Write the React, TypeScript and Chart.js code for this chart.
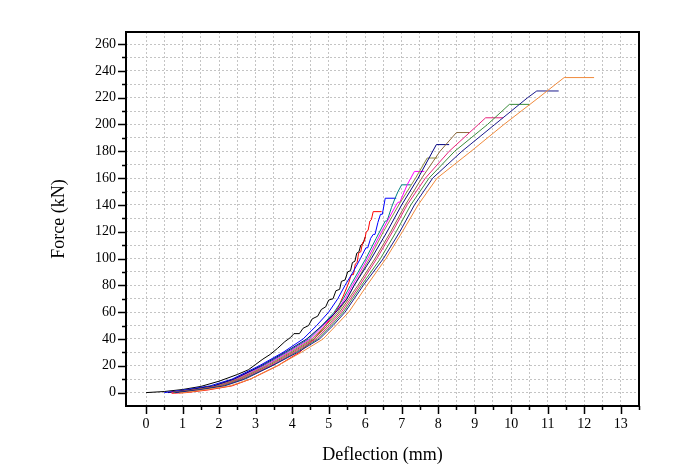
import { useEffect, useRef } from "react";
import { Chart, registerables } from "chart.js";

Chart.register(...registerables);

type Pt = [number, number];

// Tick values
const xLabelTicks = [0, 1, 2, 3, 4, 5, 6, 7, 8, 9, 10, 11, 12, 13];
const xMinorTicks = [0.5, 1.5, 2.5, 3.5, 4.5, 5.5, 6.5, 7.5, 8.5, 9.5, 10.5, 11.5, 12.5, 13.5];
const yLabelTicks = [0, 20, 40, 60, 80, 100, 120, 140, 160, 180, 200, 220, 240, 260];
const yMinorTicks = [10, 30, 50, 70, 90, 110, 130, 150, 170, 190, 210, 230, 250];

// Series (deflection mm, force kN)
const curveBlack: Pt[] = [
  [0, 0], [0.5, 0.8], [1, 2.3], [1.5, 4.6], [2, 8.5], [2.5, 13.5], [2.8, 17], [3.0, 21], [3.2, 25],
  [3.4, 28.5], [3.6, 33], [3.8, 38], [3.95, 41], [4.05, 44], [4.2, 44], [4.3, 48], [4.45, 50], [4.55, 55],
  [4.7, 57], [4.8, 62], [4.92, 64], [5.0, 69], [5.12, 70], [5.2, 76], [5.3, 77], [5.35, 83], [5.45, 84],
  [5.52, 90], [5.6, 91], [5.65, 97], [5.72, 98], [5.77, 104], [5.83, 105], [5.88, 110], [5.94, 111], [6.0, 116],
];
const curveRed: Pt[] = [
  [0.7, -0.5], [1.1, 0], [1.7, 2], [2.35, 5], [2.85, 10], [3.6, 20], [4.2, 30], [4.6, 40], [4.85, 48],
  [5.05, 55], [5.25, 63], [5.4, 72], [5.55, 82], [5.62, 88], [5.68, 88], [5.73, 96], [5.78, 97], [5.82, 104],
  [5.88, 105], [5.93, 112], [5.98, 113], [6.03, 120], [6.08, 121], [6.13, 128], [6.17, 129], [6.22, 135], [6.45, 135],
];
const curveBlue: Pt[] = [
  [0.5, 0], [1.05, 2], [1.75, 5], [2.35, 10], [3.1, 20], [3.75, 30], [4.3, 40], [4.67, 50], [5.0, 60],
  [5.25, 70], [5.45, 80], [5.67, 90], [5.87, 100], [6.02, 108], [6.07, 108], [6.15, 115], [6.22, 118], [6.27, 118],
  [6.35, 127], [6.42, 133], [6.47, 133], [6.55, 145], [6.85, 145],
];
const curveTeal: Pt[] = [
  [0.6, 0], [1.15, 2], [1.85, 5], [2.42, 10], [3.2, 20], [3.85, 30], [4.45, 40], [4.82, 50], [5.15, 60],
  [5.4, 70], [5.6, 80], [6.02, 100], [6.3, 115], [6.55, 128], [6.6, 128], [6.72, 138], [6.82, 145],
  [6.9, 150], [7.0, 155], [7.25, 155],
];
const curveMagenta: Pt[] = [
  [0.6, 0], [1.2, 2], [1.9, 5], [2.45, 10], [3.25, 20], [3.9, 30], [4.5, 40], [4.87, 50], [5.2, 60],
  [5.45, 70], [5.65, 80], [6.07, 100], [6.45, 120], [6.85, 140], [6.9, 142], [6.95, 142], [7.15, 155],
  [7.35, 165], [7.62, 165],
];
const curveOlive: Pt[] = [
  [0.65, 0], [1.25, 2], [1.95, 5], [2.5, 10], [3.3, 20], [3.95, 30], [4.55, 40], [4.92, 50], [5.25, 60],
  [5.5, 70], [5.7, 80], [6.12, 100], [6.5, 120], [6.92, 140], [7.38, 160], [7.7, 175], [7.98, 175],
];
const curveNavy: Pt[] = [
  [0.6, 0], [1.15, 2], [1.85, 5], [2.4, 10], [3.15, 20], [3.8, 30], [4.4, 40], [4.82, 50], [5.2, 60],
  [5.5, 70], [5.7, 80], [6.17, 100], [6.6, 120], [7.0, 140], [7.45, 160], [7.75, 175], [7.95, 185], [8.3, 185],
];
const curveBrown: Pt[] = [
  [0.7, 0], [1.3, 2], [2.0, 5], [2.55, 10], [3.35, 20], [4.0, 30], [4.6, 40], [4.97, 50], [5.3, 60],
  [5.55, 70], [5.8, 80], [6.27, 100], [6.7, 120], [7.1, 140], [7.55, 160], [8.05, 180], [8.5, 194], [8.85, 194],
];
const curvePink: Pt[] = [
  [0.7, 0], [1.35, 2], [2.05, 5], [2.6, 10], [3.4, 20], [4.05, 30], [4.65, 40], [5.02, 50], [5.35, 60],
  [5.6, 70], [5.85, 80], [6.32, 100], [6.75, 120], [7.15, 140], [7.65, 160], [8.3, 180], [9.1, 200],
  [9.3, 205], [9.78, 205],
];
const curveGreen: Pt[] = [
  [0.75, 0], [1.4, 2], [2.1, 5], [2.65, 10], [3.45, 20], [4.1, 30], [4.7, 40], [5.07, 50], [5.4, 60],
  [5.65, 70], [5.9, 80], [6.42, 100], [6.85, 120], [7.25, 140], [7.75, 160], [8.45, 180], [9.35, 200],
  [9.95, 215], [10.5, 215],
];
const curveDarkNavy: Pt[] = [
  [0.8, 0], [1.45, 2], [2.15, 5], [2.7, 10], [3.45, 20], [4.15, 30], [4.75, 40], [5.12, 50], [5.45, 60],
  [5.7, 70], [5.95, 80], [6.5, 100], [6.95, 120], [7.35, 140], [7.85, 160], [8.65, 180], [9.55, 200],
  [10.45, 220], [10.7, 225], [11.3, 225],
];
const curveOrange: Pt[] = [
  [0.9, -0.5], [1.6, 2], [2.3, 5], [2.85, 10], [3.6, 20], [4.25, 30], [4.85, 40], [5.2, 50], [5.55, 60],
  [5.8, 70], [6.05, 80], [6.57, 100], [7.02, 120], [7.45, 140], [7.97, 160], [8.9, 180], [9.8, 200],
  [10.75, 220], [11.45, 235], [12.27, 235],
];

const seriesList: { data: Pt[]; color: string }[] = [
  { data: curveOrange, color: "#f08a3c" },
  { data: curveDarkNavy, color: "#1a1a8c" },
  { data: curveGreen, color: "#3c8c3c" },
  { data: curvePink, color: "#e8207a" },
  { data: curveBrown, color: "#8c6a3c" },
  { data: curveNavy, color: "#000080" },
  { data: curveOlive, color: "#8c8c3c" },
  { data: curveMagenta, color: "#ff00ff" },
  { data: curveTeal, color: "#008080" },
  { data: curveBlue, color: "#0000ff" },
  { data: curveRed, color: "#ff0000" },
  { data: curveBlack, color: "#000000" },
];

const framePlugin = {
  id: "frame",
  afterDraw(chart: any) {
    const { ctx, chartArea, scales } = chart;
    const { left, top, right, bottom } = chartArea;
    const xs = scales.x;
    const ys = scales.y;
    ctx.save();
    ctx.strokeStyle = "#000";
    ctx.lineWidth = 2;
    ctx.strokeRect(left, top, right - left, bottom - top);
    ctx.lineWidth = 1.5;
    ctx.beginPath();
    for (const v of xLabelTicks) {
      const p = Math.round(xs.getPixelForValue(v)) + 0.5;
      ctx.moveTo(p, bottom);
      ctx.lineTo(p, bottom + 8);
    }
    for (const v of xMinorTicks) {
      const p = Math.round(xs.getPixelForValue(v)) + 0.5;
      ctx.moveTo(p, bottom);
      ctx.lineTo(p, bottom + 4);
    }
    for (const v of yLabelTicks) {
      const p = Math.round(ys.getPixelForValue(v)) + 0.5;
      ctx.moveTo(left, p);
      ctx.lineTo(left - 8, p);
    }
    for (const v of yMinorTicks) {
      const p = Math.round(ys.getPixelForValue(v)) + 0.5;
      ctx.moveTo(left, p);
      ctx.lineTo(left - 4, p);
    }
    ctx.stroke();
    ctx.restore();
  },
};

export default function App() {
  const canvasRef = useRef<HTMLCanvasElement | null>(null);

  useEffect(() => {
    document.body.style.margin = "0";
    const canvas = canvasRef.current;
    if (!canvas) return;
    const font = "'Liberation Serif', 'Times New Roman', serif";
    const chart = new Chart(canvas, {
      type: "scatter",
      data: {
        datasets: seriesList.map((s) => ({
          data: s.data.map(([x, y]) => ({ x, y })),
          borderColor: s.color,
          backgroundColor: s.color,
          borderWidth: 1,
          showLine: true,
          pointRadius: 0,
          tension: 0,
        })),
      },
      options: {
        responsive: false,
        maintainAspectRatio: false,
        animation: false,
        layout: { padding: { top: 32, right: 44, left: 0, bottom: 0 } },
        plugins: { legend: { display: false }, tooltip: { enabled: false } },
        scales: {
          x: {
            type: "linear",
            min: -0.55,
            max: 13.5,
            afterBuildTicks: (scale: any) => {
              scale.ticks = [...xLabelTicks, ...xMinorTicks]
                .sort((a, b) => a - b)
                .map((v) => ({ value: v }));
            },
            afterFit: (scale: any) => {
              scale.height = 60;
            },
            ticks: {
              autoSkip: false,
              maxRotation: 0,
              padding: 10,
              color: "#000",
              font: { family: font, size: 14 },
              callback: (v: any) => (xLabelTicks.includes(Number(v)) ? String(v) : ""),
            },
            grid: { color: "#c4c4c4", lineWidth: 1, drawTicks: false },
            border: { display: false, dash: [2, 2] },
            title: {
              display: true,
              text: "Deflection (mm)",
              color: "#000",
              font: { family: font, size: 18 },
              padding: { top: 0, bottom: 0 },
            },
          },
          y: {
            type: "linear",
            min: -10,
            max: 269,
            afterBuildTicks: (scale: any) => {
              scale.ticks = [...yLabelTicks, ...yMinorTicks]
                .sort((a, b) => a - b)
                .map((v) => ({ value: v }));
            },
            afterFit: (scale: any) => {
              scale.width = 126;
            },
            ticks: {
              autoSkip: false,
              padding: 10,
              color: "#000",
              font: { family: font, size: 14 },
              callback: (v: any) => (yLabelTicks.includes(Number(v)) ? String(v) : ""),
            },
            grid: { color: "#c4c4c4", lineWidth: 1, drawTicks: false },
            border: { display: false, dash: [2, 2] },
            title: {
              display: true,
              text: "Force (kN)",
              color: "#000",
              font: { family: font, size: 18 },
              padding: { top: 48, bottom: 0 },
            },
          },
        },
      },
      plugins: [framePlugin],
    });
    return () => chart.destroy();
  }, []);

  return (
    <div style={{ width: 683, height: 466 }}>
      <canvas ref={canvasRef} width={683} height={466} />
    </div>
  );
}
